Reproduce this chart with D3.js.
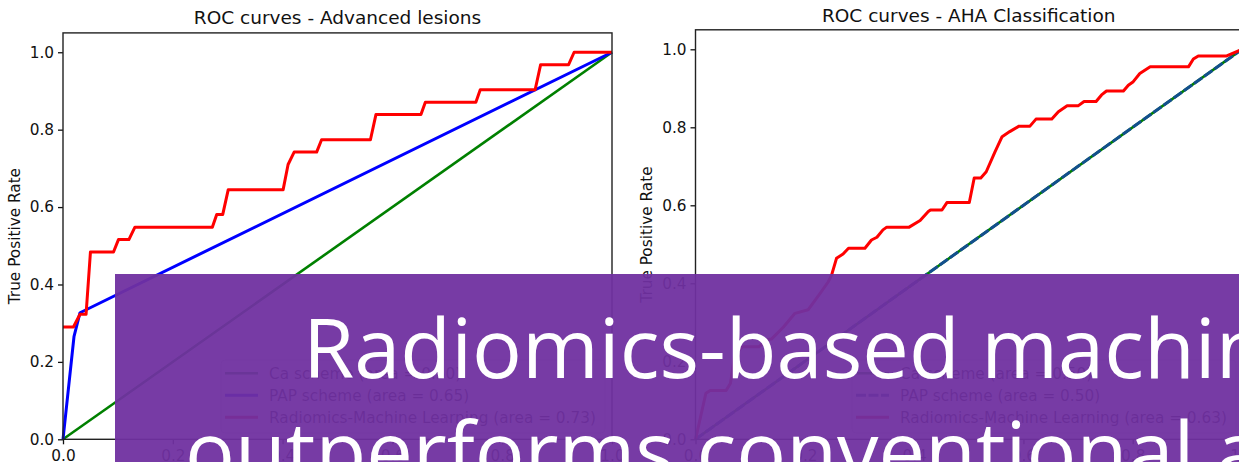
<!DOCTYPE html>
<html><head><meta charset="utf-8">
<script src="https://cdn.jsdelivr.net/npm/d3@7/dist/d3.min.js"></script>
<style>
body{margin:0;background:#fff;overflow:hidden}
svg text{font-family:"DejaVu Sans",sans-serif}
</style>
</head><body>
<svg id="c" width="1239" height="462"></svg>
<script>
// ---------- data ----------
const tickValues = [0, 0.2, 0.4, 0.6, 0.8, 1.0];
const titles = ["ROC curves - Advanced lesions", "ROC curves - AHA Classification"];
const yLabel = "True Positive Rate";
const seriesNames = ["Ca scheme", "PAP scheme", "Radiomics-Machine Learning"];
const aucLeft = [0.50, 0.65, 0.73];
const aucRight = [0.50, 0.50, 0.63];

const caLeft = [[0,0],[1,1]];
const papLeft = [[0,0],[0.02,0.265],[0.031,0.327],[1,1]];
const rmlLeft = [[0,0.290],[0.019,0.290],[0.031,0.323],[0.042,0.323],[0.050,0.484],[0.092,0.484],
  [0.101,0.516],[0.120,0.516],[0.131,0.548],[0.272,0.548],[0.280,0.581],[0.291,0.581],[0.301,0.645],
  [0.401,0.645],[0.410,0.710],[0.421,0.742],[0.462,0.742],[0.471,0.774],[0.560,0.774],[0.570,0.839],
  [0.652,0.839],[0.660,0.871],[0.752,0.871],[0.760,0.903],[0.860,0.903],[0.870,0.968],[0.921,0.968],
  [0.931,1.0],[1.0,1.0]];

const caRight = [[0,0],[1,1]];
const papRight = [[0,0],[1,1]];
const rmlRight = [[0,0],[0.019,0.118],[0.027,0.125],[0.056,0.125],[0.064,0.144],[0.072,0.221],[0.086,0.237],
  [0.116,0.237],[0.130,0.255],[0.139,0.257],[0.161,0.288],[0.182,0.323],[0.206,0.332],[0.228,0.374],
  [0.243,0.404],[0.249,0.421],[0.258,0.464],[0.270,0.475],[0.280,0.490],[0.310,0.490],[0.322,0.511],
  [0.332,0.518],[0.343,0.537],[0.350,0.544],[0.391,0.544],[0.411,0.561],[0.426,0.584],[0.430,0.588],
  [0.451,0.588],[0.460,0.607],[0.501,0.607],[0.510,0.670],[0.522,0.670],[0.532,0.686],[0.548,0.737],
  [0.561,0.776],[0.575,0.789],[0.592,0.803],[0.612,0.803],[0.623,0.821],[0.652,0.821],[0.664,0.840],
  [0.680,0.855],[0.700,0.855],[0.711,0.866],[0.733,0.866],[0.743,0.883],[0.752,0.893],[0.783,0.893],
  [0.792,0.908],[0.801,0.917],[0.813,0.938],[0.832,0.955],[0.902,0.955],[0.911,0.975],[0.920,0.983],
  [0.972,0.983],[1.0,1.0]];

const bannerLines = ["Radiomics-based machine learning", "outperforms conventional approaches"];

// ---------- drawing ----------
const svg = d3.select("#c");
const fmt = d3.format(".1f");

const panels = [
  {x0:63, x1:612, yZero:439.3, yTop:32.9, titleY:24, labelX:20,
   title:titles[0], auc:aucLeft, series:[caLeft, papLeft, rmlLeft], dashedPAP:false,
   legend:{x:221, y:360, w:384, h:73}},
  {x0:695.5, x1:1242, yZero:439.3, yTop:29.8, titleY:21.7, labelX:652,
   title:titles[1], auc:aucRight, series:[caRight, papRight, rmlRight], dashedPAP:true,
   legend:{x:852, y:360, w:384, h:73}}
];

const colors = ["green", "blue", "red"];
const widths = [2.6, 3, 3];

panels.forEach(p => {
  const x = d3.scaleLinear().domain([0,1]).range([p.x0, p.x1]);
  const y = d3.scaleLinear().domain([0,1.05]).range([p.yZero, p.yTop]);
  const g = svg.append("g");

  const ya = g.append("g").attr("transform", `translate(${p.x0},0)`)
    .call(d3.axisLeft(y).tickValues(tickValues).tickFormat(fmt).tickSize(5).tickPadding(4));
  const xa = g.append("g").attr("transform", `translate(0,${p.yZero})`)
    .call(d3.axisBottom(x).tickValues(tickValues).tickFormat(fmt).tickSize(5).tickPadding(6));
  [ya, xa].forEach(a => {
    a.select(".domain").remove();
    a.selectAll("line").attr("stroke", "#111").attr("stroke-width", 1.3);
    a.selectAll("text").attr("fill", "#111").style("font-size", "15.3px")
      .style("font-family", '"DejaVu Sans",sans-serif');
  });

  const line = d3.line().x(d => x(d[0])).y(d => y(d[1]));
  p.series.forEach((s, i) => {
    const path = g.append("path").datum(s).attr("d", line)
      .attr("fill", "none").attr("stroke", colors[i]).attr("stroke-width", widths[i])
      .attr("stroke-linejoin", "round");
    if (i === 1 && p.dashedPAP) {
      path.attr("stroke", "#134f8e").attr("stroke-dasharray", "10,2.5");
    }
  });

  g.append("rect").attr("x", p.x0).attr("y", p.yTop)
    .attr("width", p.x1 - p.x0).attr("height", p.yZero - p.yTop)
    .attr("fill", "none").attr("stroke", "#222").attr("stroke-width", 1.4);

  g.append("text").attr("x", (p.x0 + p.x1) / 2).attr("y", p.titleY)
    .attr("text-anchor", "middle").style("font-size", "18.5px").attr("fill", "#111").text(p.title);
  g.append("text").attr("transform", `translate(${p.labelX},${(p.yZero + p.yTop) / 2}) rotate(-90)`)
    .attr("text-anchor", "middle").style("font-size", "15.3px").attr("fill", "#111").text(yLabel);

  const L = p.legend;
  g.append("rect").attr("x", L.x).attr("y", L.y).attr("width", L.w).attr("height", L.h)
    .attr("rx", 4).attr("fill", "white").attr("fill-opacity", 0.8).attr("stroke", "#ccc");
  seriesNames.forEach((n, i) => {
    const cy = L.y + 13.3 + i * 22;
    const hl = g.append("line").attr("x1", L.x + 4).attr("x2", L.x + 37).attr("y1", cy).attr("y2", cy)
      .attr("stroke", colors[i]).attr("stroke-width", widths[i]);
    if (i === 1 && p.dashedPAP) hl.attr("stroke", "#134f8e").attr("stroke-dasharray", "10,2.5");
    g.append("text").attr("x", L.x + 48).attr("y", cy + 5.5).style("font-size", "15.3px")
      .attr("fill", "#111").text(`${n} (area = ${p.auc[i].toFixed(2)})`);
  });
});

// banner overlay
const banner = svg.append("g");
banner.append("rect").attr("x", 115).attr("y", 274).attr("width", 1124).attr("height", 188)
  .attr("fill", "#7030A0").attr("fill-opacity", 0.95);
const bannerPos = [[303, 378], [185, 481]];
bannerLines.forEach((t, i) => {
  banner.append("text").attr("x", bannerPos[i][0]).attr("y", bannerPos[i][1])
    .style("font-family", '"Open Sans", sans-serif').style("font-size", "83px")
    .attr("fill", "white").text(t);
});
</script>
</body></html>
